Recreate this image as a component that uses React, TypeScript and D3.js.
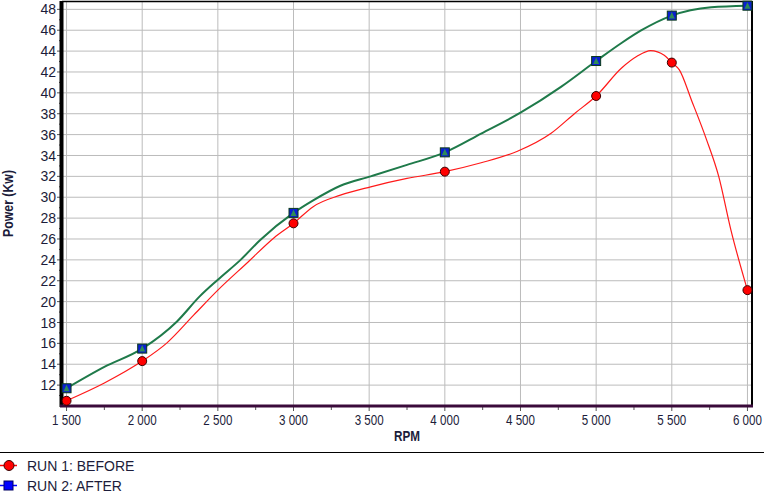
import React from "react";
import * as d3 from "d3";

// Marker points (measured runs)
const markerRpm = [1500, 2000, 3000, 4000, 5000, 5500, 6000];
const run1Markers = [10.5, 14.3, 27.5, 32.45, 39.7, 42.9, 21.1];
const run2Markers = [11.7, 15.5, 28.5, 34.3, 43.05, 47.4, 48.35];

// Continuous dyno curve readings
const run1Rpm = [1500, 1750, 2000, 2160, 2340, 2500, 2700, 2870, 3000, 3130, 3310, 3510, 3750, 4000, 4240, 4480, 4700, 4860, 5000, 5170, 5270, 5360, 5450, 5500, 5550, 5630, 5730, 5810, 5890, 6000];
const run1Power = [10.5, 12.2, 14.3, 16.0, 18.7, 21.1, 23.8, 26.1, 27.5, 29.1, 30.2, 31.0, 31.8, 32.45, 33.3, 34.4, 36.1, 38.05, 39.7, 42.4, 43.5, 44.05, 43.6, 42.9, 42.2, 39.3, 35.5, 32.0, 26.9, 21.1];
const run2Rpm = [1500, 1750, 2000, 2230, 2380, 2500, 2650, 2780, 3000, 3130, 3310, 3510, 3750, 4000, 4240, 4500, 4770, 5000, 5170, 5300, 5500, 5760, 6000];
const run2Power = [11.7, 13.75, 15.5, 18.1, 20.5, 22.1, 24.0, 25.9, 28.5, 29.7, 31.1, 32.0, 33.1, 34.3, 36.1, 38.1, 40.6, 43.05, 44.8, 46.0, 47.4, 48.2, 48.35];

const xTicks = [1500, 2000, 2500, 3000, 3500, 4000, 4500, 5000, 5500, 6000];
const yTicks = [12, 14, 16, 18, 20, 22, 24, 26, 28, 30, 32, 34, 36, 38, 40, 42, 44, 46, 48];
const seriesNames = ["RUN 1: BEFORE", "RUN 2: AFTER"];

const W = 764, H = 496;
const L = 62, R = 752, T = 1, B = 406;

export default function App() {
  const x = d3.scaleLinear().domain([1470, 6030]).range([L, R]);
  const y = d3.scaleLinear().domain([10, 48.8]).range([B, T]);
  const fmt = (v: number) => {
    const s = String(v);
    return s.length > 3 ? s.slice(0, s.length - 3) + " " + s.slice(-3) : s;
  };
  const line = d3
    .line<[number, number]>()
    .x((d) => x(d[0]))
    .y((d) => y(d[1]))
    .curve(d3.curveMonotoneX);
  const d1 = line(run1Rpm.map((r, i) => [r, run1Power[i]]) as [number, number][]) || "";
  const d2 = line(run2Rpm.map((r, i) => [r, run2Power[i]]) as [number, number][]) || "";

  const yMinor = d3.range(11, 49, 1);
  const xMinor = d3.range(1500, 6001, 250);
  const textCol = "#1c1c3a";
  const sans = "'Liberation Sans', Arial, sans-serif";
  const lastTick = xTicks[xTicks.length - 1];

  return (
    <svg width={W} height={H} style={{ position: "absolute", left: 0, top: 0, background: "#fff" }}>
      <rect x={0} y={0} width={W} height={H} fill="#fff" />
      {/* grid */}
      {yTicks.map((v) => (
        <line key={"gy" + v} x1={L} x2={R} y1={y(v)} y2={y(v)} stroke="#bcbcbc" strokeWidth={1} />
      ))}
      {xTicks.map((v) => (
        <line key={"gx" + v} x1={x(v)} x2={x(v)} y1={T} y2={B} stroke="#bcbcbc" strokeWidth={1} />
      ))}
      {/* frame */}
      <line x1={L} x2={R} y1={T + 0.5} y2={T + 0.5} stroke="#000" strokeWidth={1.5} />
      <line x1={R} x2={R} y1={T} y2={B} stroke="#000" strokeWidth={2} />
      {/* y axis ticks */}
      {yMinor.map((v) => (
        <line key={"ym" + v} x1={L - (v % 2 === 0 ? 5 : 3)} x2={L} y1={y(v)} y2={y(v)} stroke="#555" strokeWidth={1} />
      ))}
      {yTicks.map((v) => (
        <text key={"yl" + v} x={56} y={y(v)} dy="0.36em" textAnchor="end" fontFamily={sans} fontSize={14} fill={textCol}>
          {v}
        </text>
      ))}
      {/* x axis ticks */}
      {xMinor.map((v) => (
        <line key={"xm" + v} x1={x(v)} x2={x(v)} y1={B} y2={B + (v % 500 === 0 ? 5 : 4)} stroke="#555" strokeWidth={1} />
      ))}
      {xTicks.map((v) => {
        const isLast = v === lastTick;
        return (
          <text key={"xl" + v} x={isLast ? Math.min(x(v) + 14.5, W - 2) : x(v)} y={425}
            textAnchor={isLast ? "end" : "middle"} fontFamily={sans} fontSize={15}
            textLength={29} lengthAdjust="spacingAndGlyphs" fill={textCol}>
            {fmt(v)}
          </text>
        );
      })}
      {/* axis lines */}
      <line x1={L - 0.5} x2={L - 0.5} y1={T} y2={B + 1} stroke="#000" strokeWidth={4} />
      <line x1={L - 2} x2={R + 1} y1={B} y2={B} stroke="#3a0a3a" strokeWidth={3} />
      {/* axis titles */}
      <text x={(L + R) / 2} y={441} textAnchor="middle" fontFamily={sans} fontWeight="bold" fontSize={15}
        textLength={26} lengthAdjust="spacingAndGlyphs" fill={textCol}>
        RPM
      </text>
      <text transform={`translate(13,${(T + B) / 2}) rotate(-90)`} textAnchor="middle" fontFamily={sans} fontWeight="bold" fontSize={15}
        textLength={67} lengthAdjust="spacingAndGlyphs" fill={textCol}>
        Power (Kw)
      </text>
      {/* lines */}
      <path d={d1} fill="none" stroke="#ff1a1a" strokeWidth={1.2} />
      <path d={d2} fill="none" stroke="#1f7a4a" strokeWidth={2} />
      {/* markers */}
      {markerRpm.map((r, i) => (
        <circle key={"m1" + r} cx={x(r)} cy={y(run1Markers[i])} r={4.5} fill="#ff0000" stroke="#3a0000" strokeWidth={1} />
      ))}
      {markerRpm.map((r, i) => {
        const cx = x(r), cy = y(run2Markers[i]);
        return (
          <g key={"m2" + r}>
            <rect x={cx - 4.5} y={cy - 4.5} width={9} height={9} fill="#0a1fd0" stroke="#0a3a1a" strokeWidth={1} />
            <path d={`M${cx},${cy - 3.5}L${cx + 3},${cy + 3}L${cx - 3},${cy + 3}Z`} fill="#2e8b57" />
          </g>
        );
      })}
      {/* legend */}
      <line x1={0} x2={W} y1={452.5} y2={452.5} stroke="#000" strokeWidth={1.2} />
      <line x1={0} x2={17} y1={465.5} y2={465.5} stroke="#ff0000" strokeWidth={1.5} />
      <circle cx={9} cy={465.5} r={5} fill="#ff0000" stroke="#3a0000" strokeWidth={1} />
      <text x={27} y={470.5} fontFamily={sans} fontSize={14} fill={textCol}>
        {seriesNames[0]}
      </text>
      <line x1={0} x2={17} y1={485.5} y2={485.5} stroke="#0000ff" strokeWidth={1.5} />
      <rect x={4} y={481} width={9} height={9} fill="#0000ff" stroke="#000060" strokeWidth={1} />
      <text x={27} y={490.5} fontFamily={sans} fontSize={14} fill={textCol}>
        {seriesNames[1]}
      </text>
    </svg>
  );
}
